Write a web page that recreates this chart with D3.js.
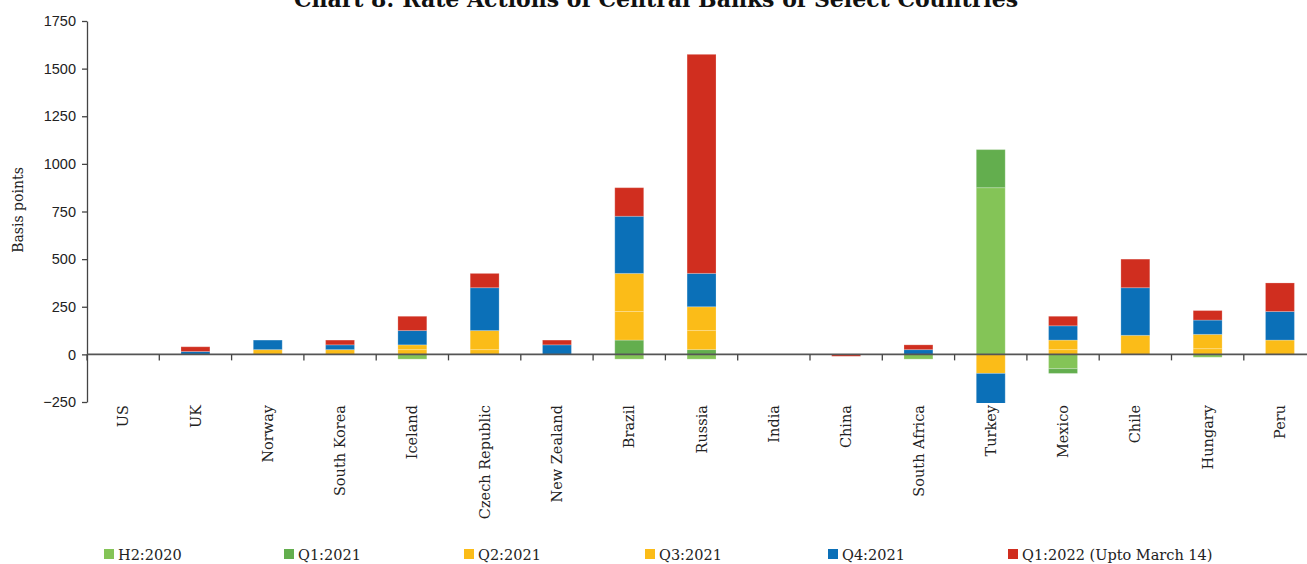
<!DOCTYPE html>
<html>
<head>
<meta charset="utf-8">
<script src="https://cdn.jsdelivr.net/npm/d3@7"></script>
<style>
  body { margin: 0; background: #fff; }
  svg { display: block; font-family: 'DejaVu Serif', serif; }
  .tick text { fill: #222; }
</style>
</head>
<body>
<div id="chart"></div>
<script>
// data (basis points)
const countries = ['US', 'UK', 'Norway', 'South Korea', 'Iceland', 'Czech Republic', 'New Zealand', 'Brazil', 'Russia', 'India', 'China', 'South Africa', 'Turkey', 'Mexico', 'Chile', 'Hungary', 'Peru']
const periods = ['H2:2020', 'Q1:2021', 'Q2:2021', 'Q3:2021', 'Q4:2021', 'Q1:2022 (Upto March 14)']
const h2_2020 = [0, 0, 0, 0, -25, 0, 0, -25, -25, 0, 0, -25, 875, -75, 0, -15, 0]
const q1_2021 = [0, 0, 0, 0, 0, 0, 0, 75, 25, 0, 0, 0, 200, -25, 0, 0, 0]
const q2_2021 = [0, 0, 0, 0, 25, 25, 0, 150, 100, 0, 0, 0, 0, 25, 0, 30, 0]
const q3_2021 = [0, 0, 25, 25, 25, 100, 0, 200, 125, 0, 0, 0, -100, 50, 100, 75, 75]
const q4_2021 = [0, 15, 50, 25, 75, 225, 50, 300, 175, 0, 0, 25, -400, 75, 250, 75, 150]
const q1_2022 = [0, 25, 0, 25, 75, 75, 25, 150, 1150, 0, -10, 25, 0, 50, 150, 50, 150]
const yTicks = [-250, 0, 250, 500, 750, 1000, 1250, 1500, 1750]

const colors = ['#84c457', '#63ae4e', '#fbbc18', '#fbbc18', '#0b70b8', '#d02e1f']

const seriesValues = [h2_2020, q1_2021, q2_2021, q3_2021, q4_2021, q1_2022]
const rows = countries.map((c, i) => {
  const row = { country: c }
  periods.forEach((p, j) => { row[p] = seriesValues[j][i] })
  return row
})

// dimensions
const width = 1307
const height = 564
const marginLeft = 87
const plotTop = 21
const plotBottom = 402
const bandStep = 72.3

const scaleX = d3.scaleBand()
  .domain(countries)
  .range([marginLeft, marginLeft + bandStep * countries.length])
  .paddingInner(0)
  .paddingOuter(0)

const scaleY = d3.scaleLinear()
  .domain([-250, 1750])
  .range([plotBottom, plotTop])

const scaleColor = d3.scaleOrdinal()
  .domain(periods)
  .range(colors)

const stacked = d3.stack()
  .keys(periods)
  .offset(d3.stackOffsetDiverging)(rows)

const $svg = d3.select('#chart').append('svg')
  .attr('width', width)
  .attr('height', height)

// title, sits against the top edge like the reference
$svg.append('text')
  .attr('x', 656)
  .attr('y', 7)
  .attr('text-anchor', 'middle')
  .style('font-size', '22px')
  .style('font-weight', 'bold')
  .style('fill', '#111')
  .text('Chart 8: Rate Actions of Central Banks of Select Countries')

$svg.append('clipPath')
  .attr('id', 'plot-clip')
  .append('rect')
  .attr('x', marginLeft)
  .attr('y', plotTop)
  .attr('width', width - marginLeft)
  .attr('height', plotBottom - plotTop + 1)

// bars
const barWidth = bandStep * 0.4
const $vis = $svg.append('g')
  .attr('clip-path', 'url(#plot-clip)')

$vis.selectAll('.g-series')
  .data(stacked)
  .enter()
  .append('g')
  .attr('class', 'g-series')
  .attr('fill', d => scaleColor(d.key))
  .selectAll('rect')
  .data(d => d.filter(s => s[1] - s[0] !== 0))
  .enter()
  .append('rect')
  .attr('x', d => scaleX(d.data.country) + (bandStep - barWidth) / 2)
  .attr('y', d => scaleY(Math.max(d[0], d[1])))
  .attr('width', barWidth)
  .attr('height', d => Math.abs(scaleY(d[0]) - scaleY(d[1])))
  .attr('stroke', '#fff')
  .attr('stroke-opacity', 0.22)
  .attr('stroke-width', 1)

// y axis
const $yAxis = $svg.append('g')
  .attr('transform', `translate(${marginLeft}, 0)`)
  .call(d3.axisLeft(scaleY)
    .tickValues(yTicks)
    .tickFormat(d3.format('d'))
    .tickSize(5)
    .tickSizeOuter(0)
    .tickPadding(6)
  )
$yAxis.selectAll('text').style('font-size', '14.5px')
$yAxis.selectAll('line, path').attr('stroke', '#444').attr('stroke-width', 1.3)

// x axis along zero, ticks between categories
const $xAxis = $svg.append('g')
  .attr('transform', `translate(0, ${scaleY(0)})`)

$xAxis.append('line')
  .attr('x1', marginLeft)
  .attr('x2', marginLeft + bandStep * countries.length)
  .attr('stroke', '#555')
  .attr('stroke-width', 1.6)

$xAxis.selectAll('.x-tick')
  .data(countries)
  .enter()
  .append('line')
  .attr('class', 'x-tick')
  .attr('x1', d => scaleX(d))
  .attr('x2', d => scaleX(d))
  .attr('y1', 0)
  .attr('y2', 6)
  .attr('stroke', '#444')
  .attr('stroke-width', 1.3)

// category labels, rotated
$svg.selectAll('.x-label')
  .data(countries)
  .enter()
  .append('text')
  .attr('class', 'x-label')
  .attr('transform', d => `translate(${scaleX(d) + bandStep / 2}, 405) rotate(-90)`)
  .attr('text-anchor', 'end')
  .attr('dy', '0.35em')
  .style('font-size', '14.5px')
  .style('fill', '#222')
  .text(d => d)

// y axis title
$svg.append('text')
  .attr('transform', 'translate(18, 210) rotate(-90)')
  .attr('text-anchor', 'middle')
  .attr('dy', '0.35em')
  .style('font-size', '14px')
  .style('fill', '#222')
  .text('Basis points')

// legend
const legendX = [104, 284, 464, 645, 828, 1008]
const $legend = $svg.selectAll('.g-legend')
  .data(periods)
  .enter()
  .append('g')
  .attr('class', 'g-legend')
  .attr('transform', (d, i) => `translate(${legendX[i]}, 549)`)

$legend.append('rect')
  .attr('width', 10)
  .attr('height', 10)
  .attr('fill', d => scaleColor(d))

$legend.append('text')
  .attr('x', 14)
  .attr('y', 11)
  .style('font-size', '14.5px')
  .style('fill', '#222')
  .text(d => d)
</script>
</body>
</html>
